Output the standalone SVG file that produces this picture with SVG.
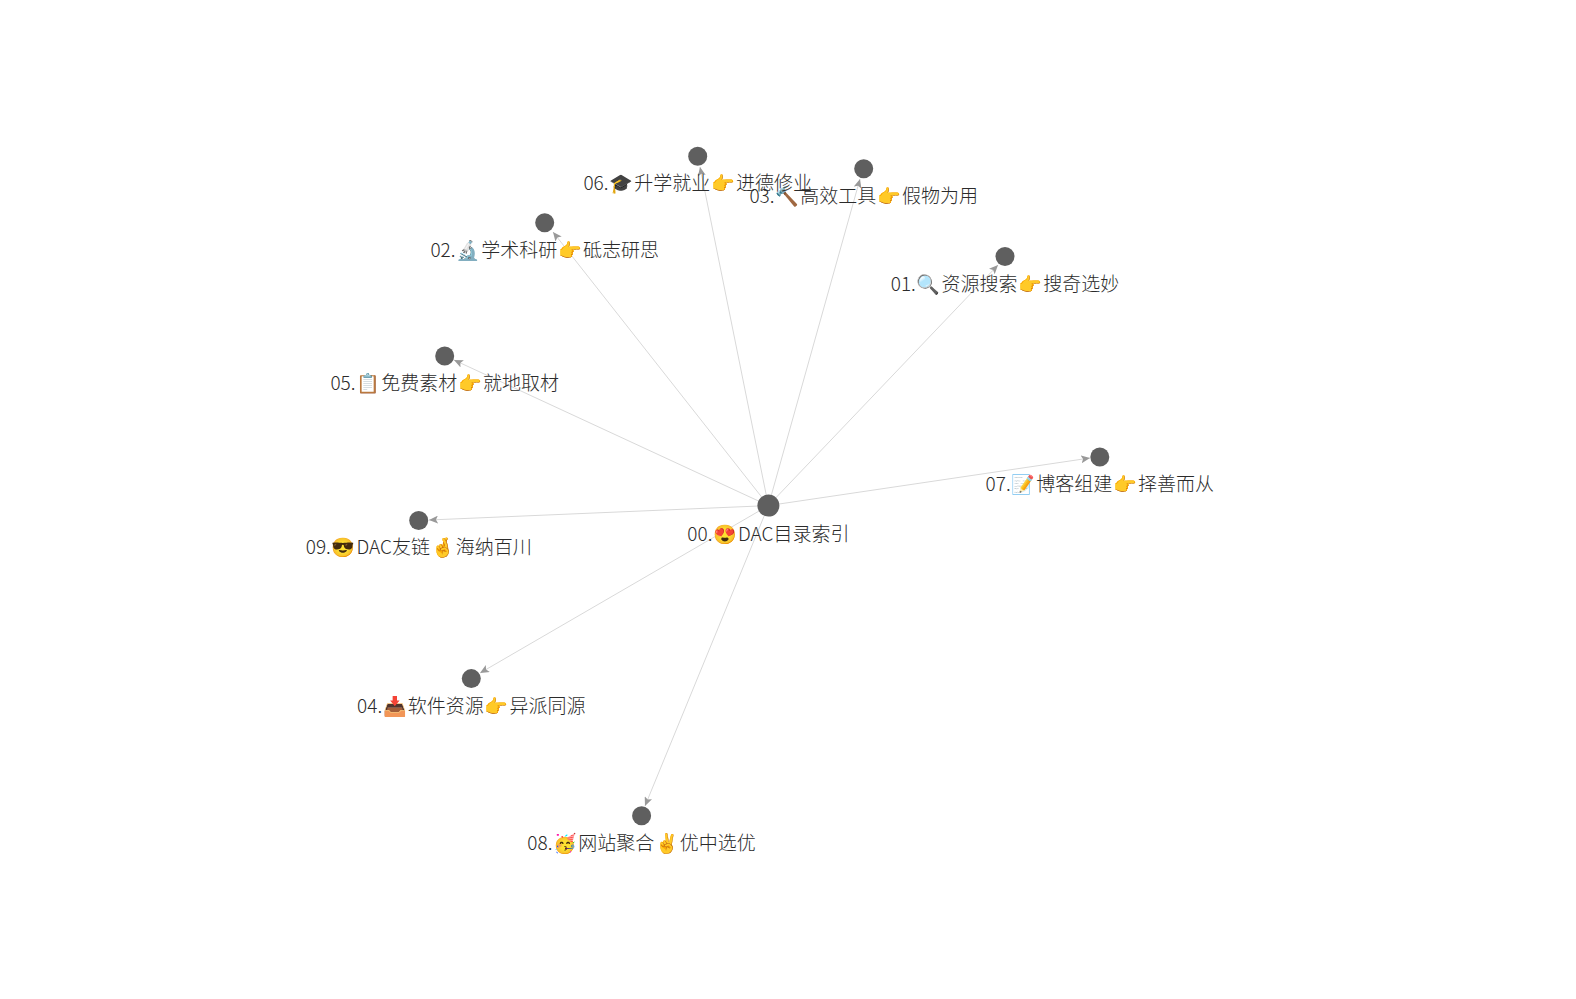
<svg xmlns="http://www.w3.org/2000/svg" width="1576" height="999" viewBox="0 0 1576 999">
<style>
.n{fill:#5f5f5f}
.l{stroke:#d9d9d9;stroke-width:1;fill:none;marker-end:url(#a)}
text{font-family:"Noto Sans CJK SC","Noto Sans","Noto Color Emoji",sans-serif;font-size:19px;font-weight:300;fill:#2b2b2b;text-anchor:middle}
</style>
<defs><marker id="a" markerUnits="userSpaceOnUse" markerWidth="10" markerHeight="8" refX="9" refY="4" orient="auto"><path d="M0 0L9 4L0 8L2 4Z" fill="#999"/></marker></defs>
<rect width="1576" height="999" fill="#fff"/>
<g id="connectors">
<path class="l" d="M768.4 505.6L998 265"/>
<path class="l" d="M768.4 505.6L553 232"/>
<path class="l" d="M768.4 505.6L860 179"/>
<path class="l" d="M768.4 505.6L480 673"/>
<path class="l" d="M768.4 505.6L454 360"/>
<path class="l" d="M768.4 505.6L700 167"/>
<path class="l" d="M768.4 505.6L1090 458"/>
<path class="l" d="M768.4 505.6L645 806"/>
<path class="l" d="M768.4 505.6L429 520"/>
</g>
<g id="n00"><circle class="n" cx="768.4" cy="505.6" r="11"/><text x="768.4" y="540.5">00.<tspan dx="1">😍</tspan><tspan dx="1">DAC目录索引</tspan></text></g>
<g id="n01"><circle class="n" cx="1005" cy="256.5" r="9.5"/><text x="1005" y="290.5">01.<tspan dx="1">🔍</tspan><tspan dx="1">资源搜索</tspan><tspan dx="1">👉</tspan><tspan dx="1">搜奇选妙</tspan></text></g>
<g id="n02"><circle class="n" cx="544.7" cy="222.7" r="9.5"/><text x="544.7" y="256.5">02.<tspan dx="1">🔬</tspan><tspan dx="1">学术科研</tspan><tspan dx="1">👉</tspan><tspan dx="1">砥志研思</tspan></text></g>
<g id="n03"><circle class="n" cx="863.7" cy="168.8" r="9.5"/><text x="863.7" y="202.5">03.<tspan dx="1">🔨</tspan><tspan dx="1">高效工具</tspan><tspan dx="1">👉</tspan><tspan dx="1">假物为用</tspan></text></g>
<g id="n04"><circle class="n" cx="471.3" cy="678.6" r="9.5"/><text x="471.3" y="712.5">04.<tspan dx="1">📥</tspan><tspan dx="1">软件资源</tspan><tspan dx="1">👉</tspan><tspan dx="1">异派同源</tspan></text></g>
<g id="n05"><circle class="n" cx="444.7" cy="356" r="9.5"/><text x="444.7" y="390">05.<tspan dx="1">📋</tspan><tspan dx="1">免费素材</tspan><tspan dx="1">👉</tspan><tspan dx="1">就地取材</tspan></text></g>
<g id="n06"><circle class="n" cx="697.7" cy="156.2" r="9.5"/><text x="697.7" y="190">06.<tspan dx="1">🎓</tspan><tspan dx="1">升学就业</tspan><tspan dx="1">👉</tspan><tspan dx="1">进德修业</tspan></text></g>
<g id="n07"><circle class="n" cx="1099.8" cy="457" r="9.5"/><text x="1099.8" y="490.5">07.<tspan dx="1">📝</tspan><tspan dx="1">博客组建</tspan><tspan dx="1">👉</tspan><tspan dx="1">择善而从</tspan></text></g>
<g id="n08"><circle class="n" cx="641.6" cy="815.8" r="9.5"/><text x="641.6" y="849.5">08.<tspan dx="1">🥳</tspan><tspan dx="1">网站聚合</tspan><tspan dx="1.5">✌</tspan><tspan dx="0.5">优中选优</tspan></text></g>
<g id="n09"><circle class="n" cx="418.7" cy="520.5" r="9.5"/><text x="418.7" y="554">09.<tspan dx="1">😎</tspan><tspan dx="1">DAC友链</tspan><tspan dx="1">🤞</tspan><tspan dx="1">海纳百川</tspan></text></g>
</svg>
